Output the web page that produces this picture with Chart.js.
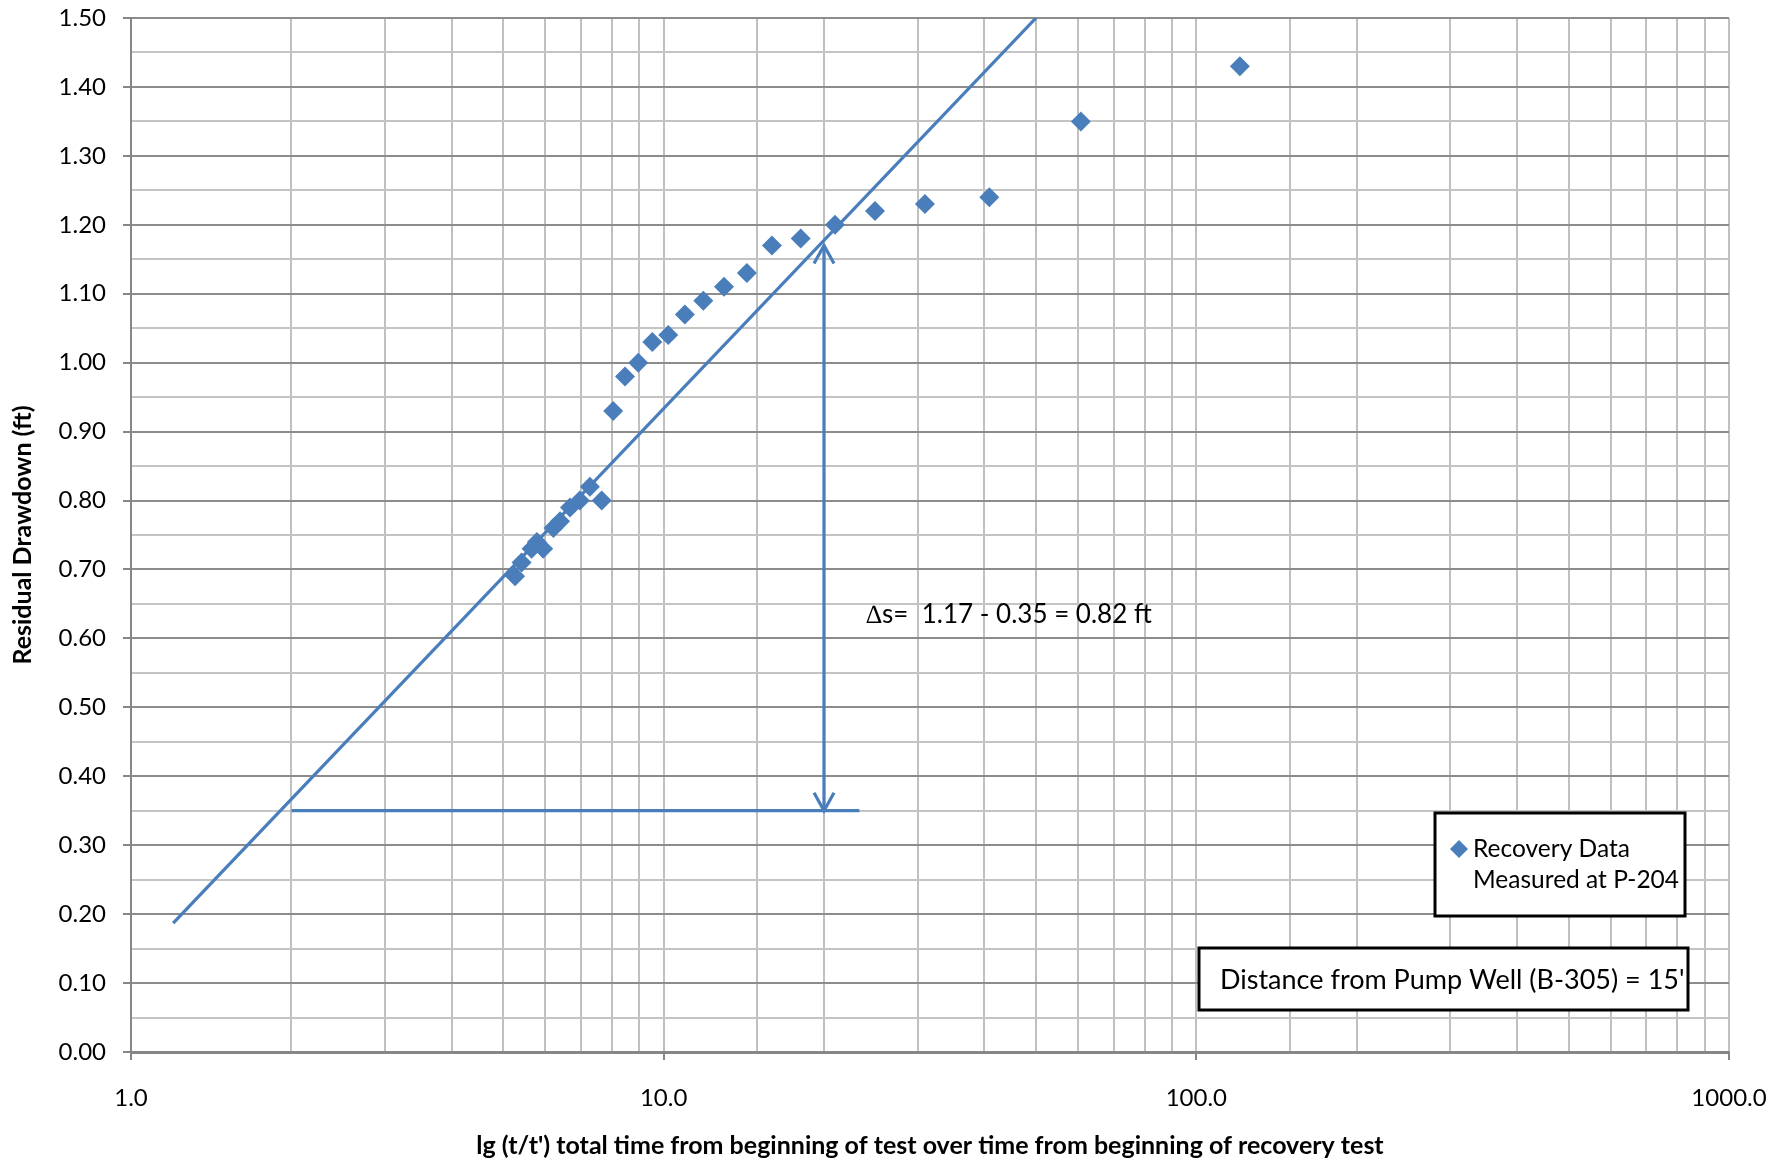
<!DOCTYPE html>
<html>
<head>
<meta charset="utf-8">
<title>Residual Drawdown – Recovery Test</title>
<script src="https://cdn.jsdelivr.net/npm/chart.js@4.4.1/dist/chart.umd.min.js"></script>
<style>
  html, body { margin: 0; padding: 0; background: #ffffff; }
  #wrap { width: 1788px; height: 1164px; position: relative; }
</style>
</head>
<body>
<div id="wrap"><canvas id="chart" width="1788" height="1164"></canvas></div>
<script>
// Recovery data: t/t' ratio and residual drawdown (ft)
const timeRatio = [5.26, 5.41, 5.65, 5.78, 5.94, 6.21, 6.39, 6.67, 6.96, 7.27, 7.65,
                   8.04, 8.46, 8.96, 9.52, 10.2, 10.96, 11.87, 12.98, 14.33, 15.97,
                   18.08, 20.97, 24.93, 30.94, 40.87, 60.7, 120.7];
const drawdown  = [0.69, 0.71, 0.73, 0.74, 0.73, 0.76, 0.77, 0.79, 0.80, 0.82, 0.80,
                   0.93, 0.98, 1.00, 1.03, 1.04, 1.07, 1.09, 1.11, 1.13, 1.17,
                   1.18, 1.20, 1.22, 1.23, 1.24, 1.35, 1.43];

// Straight-line fit through the early recovery data
const fitLineX = [1.2, 50];
const fitLineY = [0.187, 1.50];

// Drawdown difference over one log cycle
const cycleStart = 2;
const cycleEnd = 20;
const baseLineEndX = 23.3;
const deltaLow = 0.35;
const deltaHigh = 1.17;

// Axis ticks
const xTickDecades = [1, 10, 100, 1000];
const xTickLabels = ['1.0', '10.0', '100.0', '1000.0'];
const yMin = 0, yMax = 1.5, yStep = 0.05;

const seriesLabel = 'Recovery Data Measured at P-204';
const legendLines = ['Recovery Data', 'Measured at P-204'];
const distanceNote = "Distance from Pump Well (B-305) = 15'";
const xTitle = "lg (t/t') total time from beginning of test over time from beginning of recovery test";
const yTitle = 'Residual Drawdown (ft)';

// ---- styling ----
const BLUE = '#4A7EBB';
const FONT = 'Lato';
Chart.defaults.font.family = FONT;
Chart.defaults.color = '#000000';

const deltaText = '\u2206s=  ' + deltaHigh.toFixed(2) + ' - ' + deltaLow.toFixed(2) +
                  ' = ' + (deltaHigh - deltaLow).toFixed(2) + ' ft';
const deltaTextAnchor = { x: 24, y: 0.635 };

function isDecade(v) {
  if (!(v > 0)) return false;
  const l = Math.log10(v);
  return Math.abs(l - Math.round(l)) < 1e-9;
}

// Arrowheads, the Δs note, the legend and the well-distance note
const overlayPlugin = {
  id: 'overlay',
  afterDatasetsDraw(chart) {
    const { ctx, chartArea: area, scales: { x, y } } = chart;
    ctx.save();

    // open arrowheads on both ends of the Δs arrow
    const ax = x.getPixelForValue(cycleEnd);
    const yTop = y.getPixelForValue(deltaHigh);
    const yBot = y.getPixelForValue(deltaLow);
    ctx.strokeStyle = BLUE; ctx.lineWidth = 3.25; ctx.lineCap = 'butt'; ctx.lineJoin = 'miter';
    ctx.beginPath();
    ctx.moveTo(ax - 10, yTop + 18); ctx.lineTo(ax, yTop); ctx.lineTo(ax + 10, yTop + 18);
    ctx.moveTo(ax - 10, yBot - 18); ctx.lineTo(ax, yBot); ctx.lineTo(ax + 10, yBot - 18);
    ctx.stroke();

    // Δs note
    ctx.fillStyle = '#000';
    ctx.font = '26px ' + FONT;
    ctx.textBaseline = 'middle';
    ctx.textAlign = 'left';
    ctx.fillText(deltaText, x.getPixelForValue(deltaTextAnchor.x), y.getPixelForValue(deltaTextAnchor.y));

    // legend box
    const lgW = 250, lgH = 103;
    const lgX = area.right - 44 - lgW, lgY = area.bottom - 136 - lgH;
    ctx.fillStyle = '#fff';
    ctx.fillRect(lgX, lgY, lgW, lgH);
    ctx.strokeStyle = '#000'; ctx.lineWidth = 3;
    ctx.strokeRect(lgX, lgY, lgW, lgH);
    const mx = lgX + 24, my = lgY + 36, r = 9;
    ctx.fillStyle = BLUE;
    ctx.beginPath();
    ctx.moveTo(mx - r, my); ctx.lineTo(mx, my - r); ctx.lineTo(mx + r, my); ctx.lineTo(mx, my + r);
    ctx.closePath(); ctx.fill();
    ctx.fillStyle = '#000';
    ctx.font = '24.5px ' + FONT;
    legendLines.forEach((t, i) => ctx.fillText(t, lgX + 38, my + i * 31));

    // well distance note
    const dW = 489, dH = 62;
    const dX = area.right - 41 - dW, dY = area.bottom - 42 - dH;
    ctx.fillStyle = '#fff';
    ctx.fillRect(dX, dY, dW, dH);
    ctx.strokeStyle = '#000'; ctx.lineWidth = 3;
    ctx.strokeRect(dX, dY, dW, dH);
    ctx.fillStyle = '#000';
    ctx.font = '27px ' + FONT;
    ctx.fillText(distanceNote, dX + 21, dY + dH / 2 + 1);

    ctx.restore();
  }
};

const lineStyle = { showLine: true, pointRadius: 0, pointHoverRadius: 0, borderColor: BLUE,
                    backgroundColor: BLUE, borderWidth: 3.25, fill: false, tension: 0 };

new Chart(document.getElementById('chart'), {
  type: 'scatter',
  data: {
    datasets: [
      {
        label: seriesLabel,
        data: timeRatio.map((t, i) => ({ x: t, y: drawdown[i] })),
        pointStyle: 'rectRot', pointRadius: 10, pointHoverRadius: 10,
        backgroundColor: BLUE, borderColor: BLUE, borderWidth: 0, showLine: false
      },
      Object.assign({ label: 'fit', data: fitLineX.map((t, i) => ({ x: t, y: fitLineY[i] })) }, lineStyle),
      Object.assign({ label: 'base', data: [{ x: cycleStart, y: deltaLow }, { x: baseLineEndX, y: deltaLow }] }, lineStyle),
      Object.assign({ label: 'delta', data: [{ x: cycleEnd, y: deltaLow }, { x: cycleEnd, y: deltaHigh }] }, lineStyle)
    ]
  },
  options: {
    responsive: false,
    animation: false,
    devicePixelRatio: 1,
    layout: { padding: { top: 18, right: 59, left: 0, bottom: 0 } },
    plugins: { legend: { display: false }, tooltip: { enabled: false } },
    scales: {
      x: {
        type: 'logarithmic',
        min: 1, max: 1000,
        afterFit(scale) { scale.height = 112; scale.paddingLeft = 0; scale.paddingRight = 0; },
        border: { display: true, color: '#868686', width: 3 },
        grid: {
          color: '#c0c0c0', lineWidth: 2, drawTicks: true, tickLength: 8, tickWidth: 2,
          tickColor: (c) => (c.tick && isDecade(c.tick.value)) ? '#868686' : 'rgba(0,0,0,0)'
        },
        ticks: {
          autoSkip: false, maxRotation: 0, padding: 24,
          font: { size: 24, family: FONT }, color: '#000',
          callback: (v) => {
            const k = xTickDecades.findIndex(d => Math.abs(d - v) < 1e-9);
            return k >= 0 ? xTickLabels[k] : '';
          }
        },
        title: {
          display: true, text: xTitle, color: '#000',
          font: { size: 25, weight: 'bold', family: FONT },
          padding: { top: 0, bottom: 3 }
        }
      },
      y: {
        min: yMin, max: yMax,
        afterFit(scale) { scale.width = 131; scale.paddingTop = 0; scale.paddingBottom = 0; },
        border: { display: true, color: '#868686', width: 2 },
        grid: {
          color: (c) => c.index % 2 === 0 ? '#8c8c8c' : '#c4c4c4',
          lineWidth: 2, drawTicks: true, tickLength: 8, tickWidth: 2,
          tickColor: (c) => c.index % 2 === 0 ? '#868686' : 'rgba(0,0,0,0)'
        },
        ticks: {
          stepSize: yStep, autoSkip: false, padding: 17,
          font: { size: 24, family: FONT }, color: '#000',
          callback: (v, i) => i % 2 === 0 ? Number(v).toFixed(2) : ''
        },
        title: {
          display: true, text: yTitle, color: '#000',
          font: { size: 25, weight: 'bold', family: FONT },
          padding: { top: 8, bottom: 0 }
        }
      }
    }
  },
  plugins: [overlayPlugin]
});
</script>
</body>
</html>
